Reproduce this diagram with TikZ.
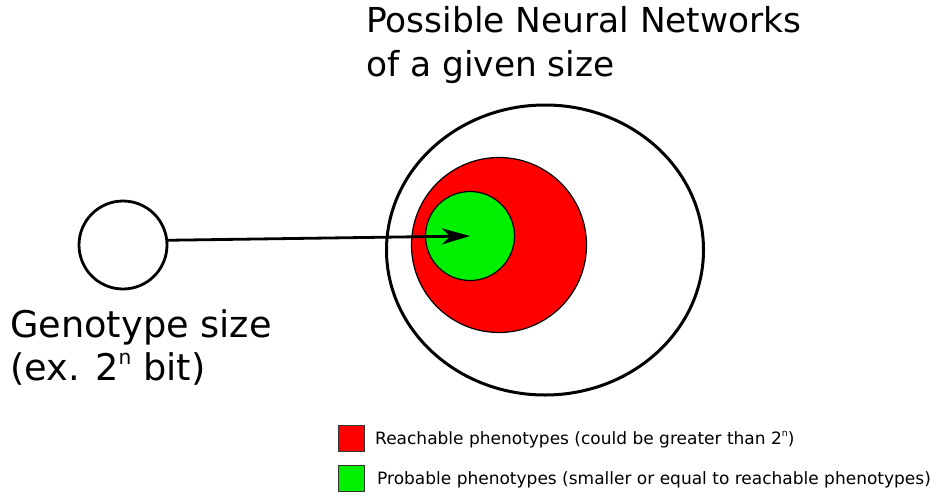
\documentclass[tikz,border=0pt]{standalone}
\usepackage{fontspec}
\setmainfont{DejaVu Sans}
\usetikzlibrary{shapes.geometric,arrows.meta}
\definecolor{reach}{RGB}{255,0,0}
\definecolor{prob}{RGB}{0,240,0}
\newcommand{\supn}[1]{\raisebox{0.42em}{\scalebox{0.55}{#1}}}
\tikzset{
  bigtext/.style={font=\fontsize{34.4}{40}\selectfont, anchor=base west, inner sep=0},
  legtext/.style={font=\fontsize{17}{20}\selectfont, anchor=base west, inner sep=0},
  legbox/.style={draw=black!80, line width=0.8pt, minimum size=26pt, inner sep=0},
  thick circ/.style={circle, draw=black, line width=2.8pt, inner sep=0},
}
\begin{document}
\begin{tikzpicture}[x=1pt,y=-1pt]
\useasboundingbox (0,0) rectangle (941,495);
\node[ellipse, draw=black, line width=3pt, minimum width=317pt, minimum height=290pt, inner sep=0] (outer) at (545,250) {};
\node[circle, draw=black, line width=1.2pt, fill=reach, minimum size=175pt, inner sep=0] (reachc) at (499,245) {};
\node[circle, draw=black, line width=1.2pt, fill=prob, minimum size=89pt, inner sep=0] (probc) at (470,236) {};
\node[thick circ, minimum size=88pt] (geno) at (123,245) {};
\draw[line width=2.8pt, -{Stealth[length=28pt,width=16pt,inset=8pt]}] (geno.6) -- (probc.center);
\node[bigtext] (t1) at (366,33) {Possible Neural Networks};
\node[bigtext] (t2) at (366,76) {of a given size};
\node[bigtext, font=\fontsize{36.7}{40}\selectfont] (g1) at (10,337) {Genotype size};
\node[bigtext, font=\fontsize{36.7}{40}\selectfont] (g2) at (10,380) {(ex. 2\supn{n} bit)};
\node[legbox, fill=reach] (lr) at (351.5,438.5) {};
\node[legbox, fill=prob] (lg) at (351.5,478.5) {};
\node[legtext] (tr) at (375,444) {Reachable phenotypes (could be greater than 2\supn{n})};
\node[legtext] (tg) at (377,484) {Probable phenotypes (smaller or equal to reachable phenotypes)};
\end{tikzpicture}
\end{document}
